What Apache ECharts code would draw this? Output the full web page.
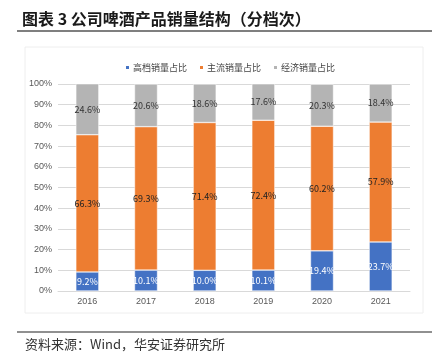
<!DOCTYPE html>
<html><head><meta charset="utf-8">
<script src="https://cdn.jsdelivr.net/npm/echarts@6/dist/echarts.min.js"></script>
<style>html,body{margin:0;padding:0;background:#fff}#c{width:434px;height:363px}</style>
</head><body><div id="c"></div>
<script>
var categories = ['2016','2017','2018','2019','2020','2021'];
var premium = [9.2, 10.1, 10.0, 10.1, 19.4, 23.7];
var mainstream = [66.3, 69.3, 71.4, 72.4, 60.2, 57.9];
var economy = [24.6, 20.6, 18.6, 17.6, 20.3, 18.4];
var seriesNames = ['高档销量占比','主流销量占比','经济销量占比'];
var yTicks = [0,10,20,30,40,50,60,70,80,90,100];

var font = '"Noto Sans CJK SC", sans-serif';
var chart = echarts.init(document.getElementById('c'), null, {renderer:'canvas'});
function lab(color){
  return {show:true, position:'inside', color:color, fontSize:9, fontFamily:font,
    formatter:function(p){return p.value.toFixed(1)+'%';}};
}
chart.setOption({
  animation:false,
  title:{text:'图表 3 公司啤酒产品销量结构（分档次）', left:17, top:6,
    textStyle:{fontSize:16, fontWeight:'bold', color:'#1a1a1a', fontFamily:font}},
  graphic:[
    {type:'line', shape:{x1:17,y1:31,x2:432,y2:31}, style:{stroke:'#555',lineWidth:1.5}},
    {type:'rect', shape:{x:25,y:47,width:398,height:266}, style:{fill:'none',stroke:'#eeeeee',lineWidth:1}},
    {type:'line', shape:{x1:17,y1:332,x2:432,y2:332}, style:{stroke:'#222',lineWidth:1.2}},
    {type:'text', left:25, top:338, style:{text:'资料来源：Wind，华安证券研究所', fontSize:13, fill:'#333', fontFamily:font}}
  ],
  legend:{top:58, left:119, itemWidth:5, itemHeight:5, itemGap:11,
    textStyle:{fontSize:9, color:'#444', fontFamily:font, padding:[0,0,0,-2]},
    data:seriesNames},
  grid:{left:58, right:24, top:84, bottom:72},
  xAxis:{type:'category', data:categories,
    axisLine:{lineStyle:{color:'#d9d9d9'}}, axisTick:{show:false},
    axisLabel:{fontSize:9, color:'#595959', margin:6, fontFamily:'Liberation Sans, sans-serif'}},
  yAxis:{type:'value', min:0, max:100, interval:10,
    axisLine:{show:false}, axisTick:{show:false},
    splitLine:{lineStyle:{color:'#d9d9d9'}},
    axisLabel:{fontSize:9, color:'#595959', margin:6, fontFamily:'Liberation Sans, sans-serif',
      formatter:function(v){return yTicks.indexOf(v)>=0 ? v+'%' : '';}}},
  series:[
    {name:seriesNames[0], type:'bar', stack:'a', data:premium, barWidth:23,
     itemStyle:{color:'#4472C4', borderColor:'#fff', borderWidth:0.5}, label:lab('#fff')},
    {name:seriesNames[1], type:'bar', stack:'a', data:mainstream, barWidth:23,
     itemStyle:{color:'#ED7D31', borderColor:'#fff', borderWidth:0.5}, label:lab('#222')},
    {name:seriesNames[2], type:'bar', stack:'a', data:economy, barWidth:23,
     itemStyle:{color:'#B4B4B4', borderColor:'#fff', borderWidth:0.5}, label:lab('#333')}
  ]
});
</script></body></html>
